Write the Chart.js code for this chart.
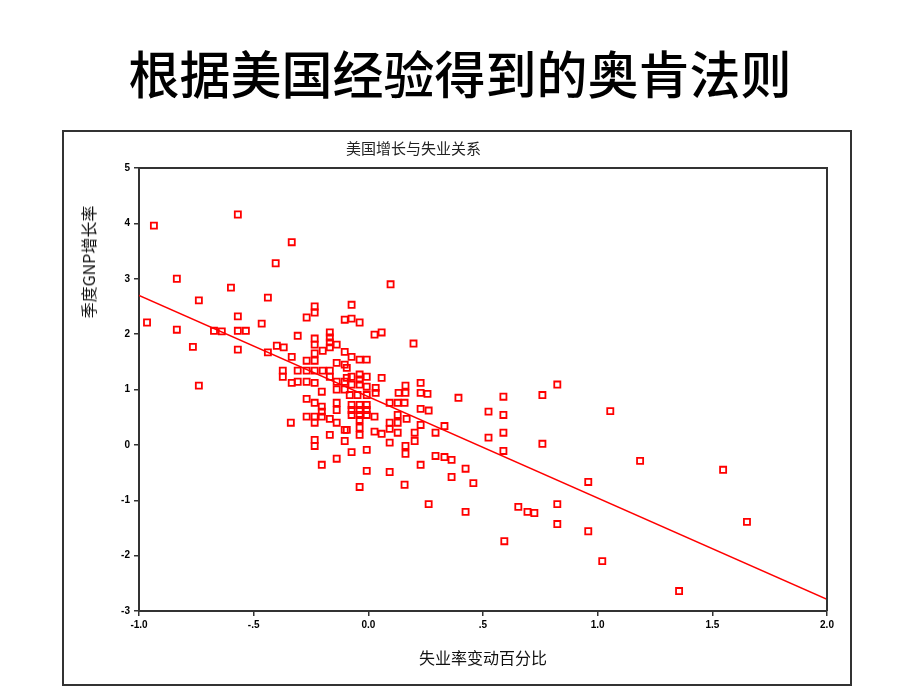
<!DOCTYPE html>
<html>
<head>
<meta charset="utf-8">
<script src="https://cdn.jsdelivr.net/npm/chart.js@4/dist/chart.umd.min.js"></script>
<style>
  body { margin: 0; background: #fff; width: 920px; height: 690px; overflow: hidden; position: relative; }
  #page-title { position: absolute; left: 0; top: 40px; width: 920px; text-align: center;
    font-family: "Noto Sans CJK SC", sans-serif; font-size: 51px; font-weight: 500; color: #000; line-height: 64px; }
  #frame { position: absolute; left: 62px; top: 130px; width: 786px; height: 552px; border: 2px solid #333; }
  #y-title { position: absolute; left: 88px; top: 262px; transform: translate(-50%, -50%) rotate(-90deg);
    font-family: "Noto Sans CJK SC", sans-serif; font-size: 16px; color: #111; white-space: nowrap; }
  #chart { position: absolute; left: 0; top: 0; }
</style>
</head>
<body>
<div id="page-title">根据美国经验得到的奥肯法则</div>
<div id="frame"></div>
<canvas id="chart" width="920" height="690"></canvas>
<div id="y-title">季度GNP增长率</div>
<script>
// x: 失业率变动百分比, y: 季度GNP增长率
const unemploymentChange = [
  -0.965, -0.935, -0.835, -0.835, -0.765, -0.739, -0.739, -0.673, -0.639, -0.599,
  -0.569, -0.569, -0.569, -0.569, -0.534, -0.465, -0.438, -0.404, -0.334, -0.438,
  -0.399, -0.369, -0.334, -0.373, -0.373, -0.334, -0.308, -0.338, -0.308, -0.269,
  -0.234, -0.234, -0.073, -0.103, -0.073, -0.038, 0.097, 0.027, 0.058, 0.197,
  -0.168, -0.168, -0.168, -0.168, -0.234, -0.234, -0.199, -0.138, -0.103, -0.269,
  -0.234, -0.234, -0.138, -0.103, -0.308, -0.269, -0.234, -0.199, -0.168, -0.269,
  -0.234, -0.168, -0.138, -0.103, -0.203, -0.138, -0.103, -0.094, -0.094, -0.073,
  -0.038, -0.038, -0.007, -0.073, -0.038, -0.007, 0.058, -0.073, -0.038, -0.007,
  0.032, 0.162, 0.228, 0.132, 0.162, 0.228, 0.258, 0.032, -0.269, -0.234,
  -0.203, -0.203, -0.203, -0.138, -0.138, -0.269, -0.234, -0.234, -0.168, -0.138,
  -0.103, -0.168, -0.234, -0.234, -0.103, -0.138, -0.203, -0.081, -0.047, -0.007,
  -0.073, -0.073, -0.073, -0.038, -0.038, -0.038, -0.038, -0.038, -0.038, -0.007,
  -0.007, -0.007, 0.027, 0.093, 0.128, 0.158, 0.128, 0.128, 0.093, 0.093,
  0.167, 0.228, 0.263, 0.228, 0.293, 0.202, 0.202, 0.027, 0.058, 0.128,
  0.093, -0.094, 0.162, 0.162, -0.073, -0.007, 0.293, 0.228, -0.007, 0.093,
  -0.038, 0.158, 0.332, 0.393, 0.332, 0.363, 0.424, 0.363, 0.458, 0.524,
  0.589, 0.589, 0.524, 0.589, 0.589, 0.759, 0.824, 0.759, 1.055, 1.185,
  1.547, 0.959, 1.651, 0.959, 1.020, 1.355, 0.263, 0.424, 0.654, 0.694,
  0.724, 0.824, 0.824, 0.593
];
const gdpGrowth = [
  2.21, 3.96, 3.00, 2.08, 1.77, 2.61, 1.07, 2.06, 2.05, 2.84,
  4.16, 2.32, 2.06, 1.72, 2.06, 2.19, 2.66, 3.28, 3.66, 1.67,
  1.79, 1.76, 1.59, 1.34, 1.23, 1.12, 1.14, 0.40, 1.97, 2.30,
  2.50, 2.39, 2.53, 2.26, 2.28, 2.21, 2.90, 1.99, 2.03, 1.83,
  2.03, 1.94, 1.85, 1.76, 1.92, 1.81, 1.70, 1.81, 1.68, 1.52,
  1.52, 1.65, 1.48, 1.45, 1.34, 1.34, 1.34, 1.34, 1.34, 1.14,
  1.12, 1.23, 1.14, 1.14, 0.96, 1.00, 1.00, 1.39, 1.21, 1.23,
  1.27, 1.18, 1.23, 1.59, 1.54, 1.54, 1.21, 1.09, 1.09, 1.05,
  1.03, 1.07, 1.12, 0.94, 0.94, 0.94, 0.92, 0.94, 0.83, 0.76,
  0.69, 0.60, 0.51, 0.76, 0.63, 0.51, 0.51, 0.40, 0.47, 0.40,
  0.27, 0.18, 0.09, -0.02, 0.07, -0.25, -0.36, 0.90, 0.90, 0.90,
  0.72, 0.63, 0.54, 0.72, 0.63, 0.54, 0.45, 0.31, 0.18, 0.72,
  0.63, 0.54, 0.51, 0.76, 0.76, 0.76, 0.54, 0.40, 0.40, 0.29,
  0.47, 0.65, 0.62, 0.36, 0.22, 0.22, 0.07, 0.24, 0.20, 0.22,
  0.04, 0.27, -0.02, -0.16, -0.13, -0.09, -0.20, -0.36, -0.47, -0.49,
  -0.76, -0.72, 0.34, 0.85, -0.22, -0.27, -0.43, -0.58, -0.69, 0.60,
  0.87, 0.54, 0.13, 0.22, -0.11, 0.90, 1.09, 0.02, 0.61, -0.29,
  -0.45, -0.67, -1.39, -1.56, -2.10, -2.64, -1.07, -1.21, -1.12, -1.21,
  -1.23, -1.07, -1.43, -1.74
];

// fitted line end points
const fitLineX = [-1.0, 2.0];
const fitLineY = [2.70, -2.79];

const xTickLabels = ['-1.0', '-.5', '0.0', '.5', '1.0', '1.5', '2.0'];
const yTickLabels = ['-3', '-2', '-1', '0', '1', '2', '3', '4', '5'];

const points = unemploymentChange.map((x, i) => ({ x: x, y: gdpGrowth[i] }));
const fitLine = fitLineX.map((x, i) => ({ x: x, y: fitLineY[i] }));

// frame on the top and right side of the plot area
const plotFrame = {
    id: 'plotFrame',
    afterDraw(chart) {
        const { ctx, chartArea: a } = chart;
        ctx.save();
        ctx.strokeStyle = '#333';
        ctx.lineWidth = 2;
        ctx.beginPath();
        ctx.moveTo(a.left, a.top);
        ctx.lineTo(a.right, a.top);
        ctx.lineTo(a.right, a.bottom);
        ctx.stroke();
        ctx.restore();
    }
};

const tickFont = { family: 'Liberation Sans', size: 10, weight: 'bold' };

new Chart(document.getElementById('chart'), {
    type: 'scatter',
    data: {
        datasets: [{
            data: fitLine,
            showLine: true,
            borderColor: '#ff0000',
            borderWidth: 1.5,
            pointRadius: 0
        }, {
            data: points,
            pointStyle: 'rect',
            pointRadius: 4.3,
            borderColor: '#ff0000',
            backgroundColor: 'rgba(0,0,0,0)',
            borderWidth: 1.8
        }]
    },
    options: {
        responsive: false,
        animation: false,
        layout: { padding: { left: 0, right: 93, top: 0, bottom: 0 } },
        plugins: {
            legend: { display: false },
            tooltip: { enabled: false },
            title: {
                display: true,
                text: '美国增长与失业关系',
                color: '#222',
                font: { family: 'Noto Sans CJK SC', size: 15, weight: 'normal' },
                padding: { top: 139, bottom: 11 }
            }
        },
        scales: {
            x: {
                type: 'linear',
                min: -1, max: 2,
                afterFit: (axis) => { axis.height = 79; },
                ticks: {
                    stepSize: 0.5,
                    color: '#000',
                    font: tickFont,
                    padding: 3,
                    callback: (value, index) => xTickLabels[index]
                },
                grid: { display: true, drawOnChartArea: false, tickLength: 5, color: '#333', lineWidth: 1.5 },
                border: { display: true, color: '#333', width: 2 },
                title: {
                    display: true,
                    text: '失业率变动百分比',
                    color: '#111',
                    font: { family: 'Noto Sans CJK SC', size: 16 },
                    padding: { top: 0, bottom: 22 }
                }
            },
            y: {
                type: 'linear',
                min: -3, max: 5,
                afterFit: (axis) => { axis.width = 139; },
                ticks: {
                    stepSize: 1,
                    color: '#000',
                    font: tickFont,
                    padding: 4,
                    callback: (value, index) => yTickLabels[index]
                },
                grid: { display: true, drawOnChartArea: false, tickLength: 5, color: '#333', lineWidth: 1.5 },
                border: { display: true, color: '#333', width: 2 }
            }
        }
    },
    plugins: [plotFrame]
});
</script>
</body>
</html>
